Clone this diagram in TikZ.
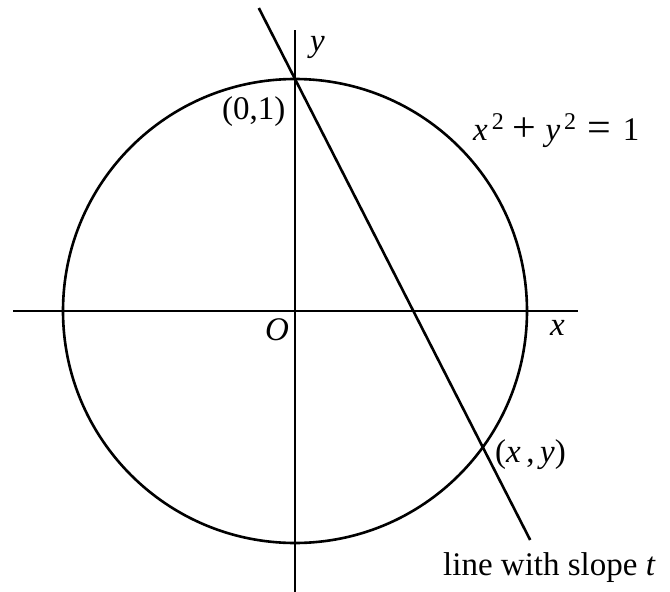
\documentclass[tikz,border=0pt]{standalone}
\usepackage{fontspec}
\setmainfont{Liberation Serif}
\newcommand{\supdigit}[1]{\raisebox{11pt}{\fontsize{24}{24}\selectfont #1}}
\newcommand{\bigop}[1]{{\fontsize{42}{42}\selectfont\raisebox{-1pt}{#1}}}
\begin{document}
\begin{tikzpicture}[x=1pt,y=-1pt,
  curve/.style={line width=2.6pt},
  lbl/.style={inner sep=0pt,anchor=base west,font=\fontsize{33}{40}\selectfont}]
\useasboundingbox (0,0) rectangle (670,592);
\coordinate (C) at (295,311);
\coordinate (xl) at (13,311);
\coordinate (xr) at (578,311);
\coordinate (yt) at (295,30);
\coordinate (yb) at (295,592);
\coordinate (P) at (295,79);
\coordinate (Q) at (482.8,447.2);
\coordinate (lt) at (258.8,8);
\coordinate (lb) at (530.2,540);
\draw[curve] (C) circle [radius=232pt];
\draw[curve] (xl) -- (xr);
\draw[curve] (yt) -- (yb);
\draw[curve] (lt) -- (P) -- (Q) -- (lb);
\node[lbl] (ylab) at (310,51) {\textit{y}};
\node[lbl] (plab) at (222,119) {(0,1)};
\node[lbl] (eq) at (473,140) {\textit{x}\hspace{4pt}\supdigit{2}\hspace{9pt}\bigop{+}\hspace{9pt}\textit{y}\hspace{4pt}\supdigit{2}\hspace{11pt}\bigop{=}\hspace{12pt}1};
\node[lbl] (olab) at (265,340) {\textit{O}};
\node[lbl] (xlab) at (550,335) {\textit{x}};
\node[lbl] (qlab) at (495,462) {(\textit{x}\,,\,\textit{y})};
\node[lbl] (slab) at (443,575) {line with slope \textit{t}};
\end{tikzpicture}
\end{document}
